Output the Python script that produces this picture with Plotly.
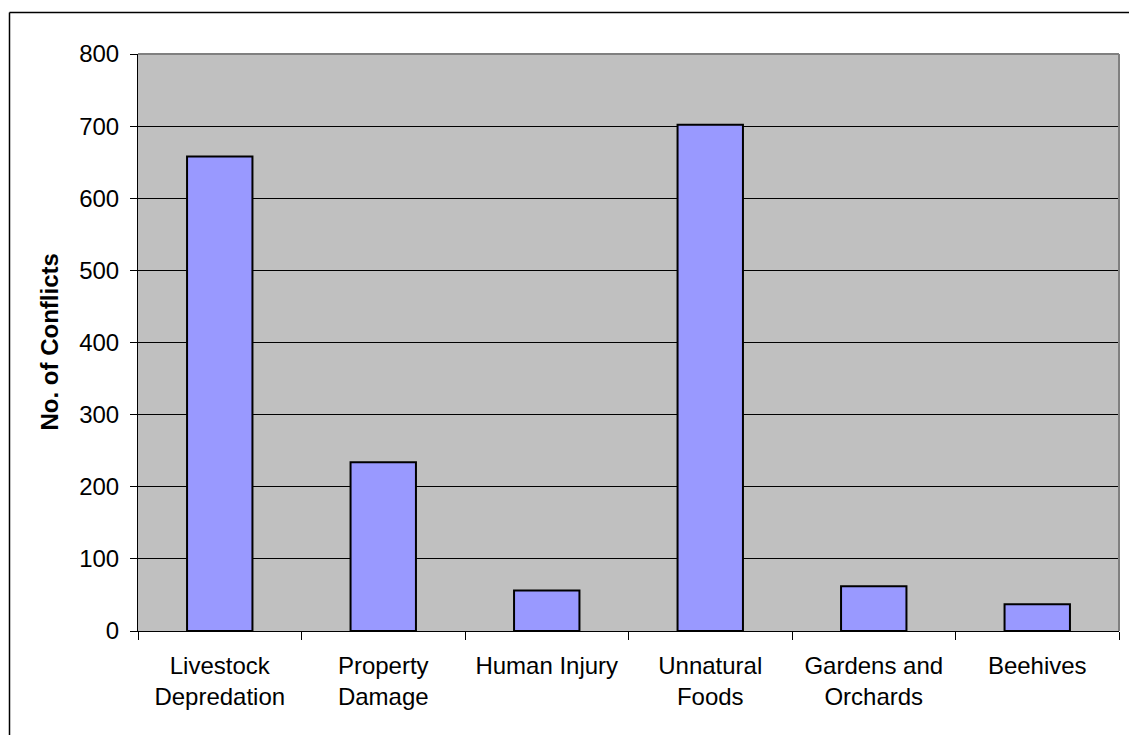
import plotly.graph_objects as go

categories = ["Livestock<br>Depredation", "Property<br>Damage", "Human Injury",
              "Unnatural<br>Foods", "Gardens and<br>Orchards", "Beehives"]
conflicts = [658, 234, 56, 702, 62, 37]
y_ticks = [0, 100, 200, 300, 400, 500, 600, 700, 800]
y_title = "No. of Conflicts"

W, H = 1129, 735
L, R, T, B = 138, 10, 54, 104
pw, ph = W - L - R, H - T - B

def px_x(px):
    return (px - L) / pw

def px_y(py):
    return (H - B - py) / ph

FONT = "Liberation Sans, Arial, sans-serif"

fig = go.Figure()
fig.add_trace(go.Bar(
    x=categories, y=conflicts,
    marker=dict(color="#9999FF", line=dict(color="#000000", width=2)),
    hoverinfo="x+y",
))

fig.update_layout(
    width=W, height=H,
    margin=dict(l=L, r=R, t=T, b=B, pad=0),
    paper_bgcolor="white",
    plot_bgcolor="#C0C0C0",
    bargap=0.6,
    showlegend=False,
    font=dict(family=FONT, size=24, color="#000000"),
    xaxis=dict(
        type="category",
        tickson="boundaries",
        ticks="outside", ticklen=8, tickwidth=1, tickcolor="#000000",
        ticklabelstandoff=13,
        showline=True, linecolor="#000000", linewidth=1,
        showgrid=False, zeroline=False,
        tickfont=dict(family=FONT, size=24, color="#000000"),
    ),
    yaxis=dict(
        range=[0, 800],
        tickvals=y_ticks,
        ticktext=[str(v) for v in y_ticks],
        ticks="outside", ticklen=7, tickwidth=1, tickcolor="#000000",
        ticklabelstandoff=6,
        showline=True, linecolor="#000000", linewidth=1,
        showgrid=True, gridcolor="#000000", gridwidth=1,
        zeroline=False,
        tickfont=dict(family=FONT, size=24, color="#000000"),
    ),
    shapes=[
        dict(type="line", xref="paper", yref="paper", x0=0, x1=1, y0=1, y1=1,
             line=dict(color="#808080", width=2), layer="above"),
        dict(type="line", xref="paper", yref="paper", x0=1, x1=1, y0=0, y1=1,
             line=dict(color="#808080", width=2), layer="above"),
        dict(type="line", xref="paper", yref="paper",
             x0=px_x(9.5), x1=px_x(9.5), y0=px_y(740), y1=px_y(12.5),
             line=dict(color="#000000", width=1.5)),
        dict(type="line", xref="paper", yref="paper",
             x0=px_x(9.5), x1=px_x(1135), y0=px_y(12.5), y1=px_y(12.5),
             line=dict(color="#000000", width=1.5)),
    ],
    annotations=[
        dict(text="<b>" + y_title + "</b>", xref="paper", yref="paper",
             x=px_x(49), y=0.5, xanchor="center", yanchor="middle",
             textangle=-90, showarrow=False,
             font=dict(family=FONT, size=24, color="#000000")),
    ],
)

fig.write_html("out.html")
